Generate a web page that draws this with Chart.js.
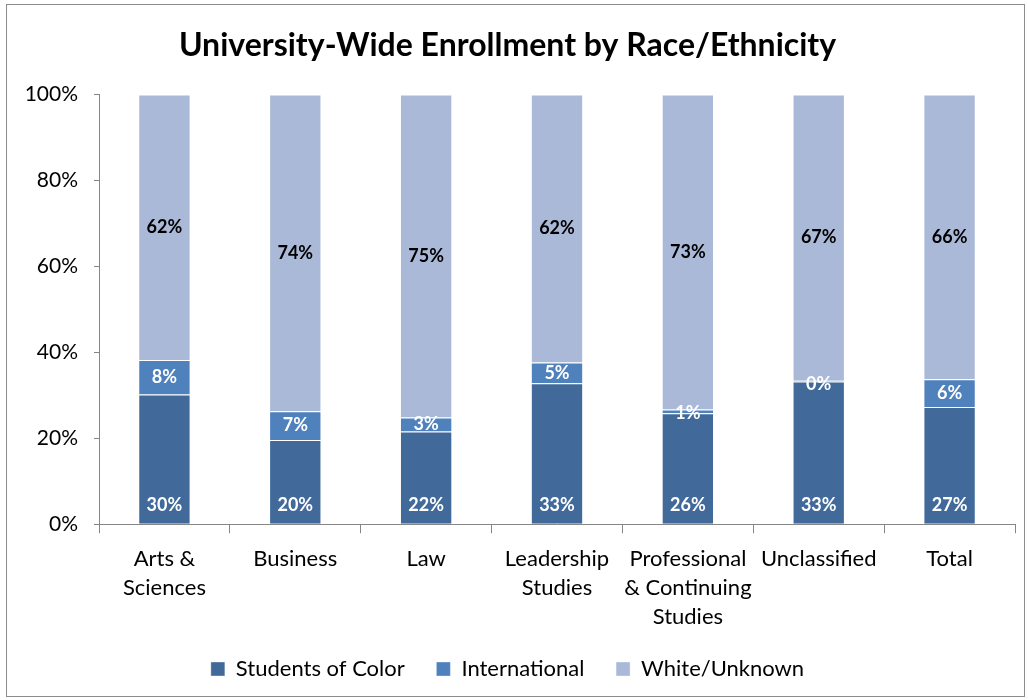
<!DOCTYPE html>
<html>
<head>
<meta charset="utf-8">
<script src="https://cdn.jsdelivr.net/npm/chart.js@4/dist/chart.umd.min.js"></script>
<style>
  html, body { margin: 0; padding: 0; background: #fff; }
  #wrap { position: relative; width: 1028px; height: 700px; }
</style>
</head>
<body>
<div id="wrap"><canvas id="enrollChart" width="1028" height="700"></canvas></div>
<script>
// Values (percent of enrollment)
const categories = [
    ['Arts &', 'Sciences'],
    ['Business'],
    ['Law'],
    ['Leadership', 'Studies'],
    ['Professional', '& Continuing', 'Studies'],
    ['Unclassified'],
    ['Total']
];
const studentsOfColor = [30.2, 19.6, 21.6, 32.8, 25.8, 33.2, 27.3];
const international   = [8.0, 6.7, 3.2, 4.8, 0.9, 0.2, 6.4];
const whiteUnknown    = [61.8, 73.7, 75.2, 62.4, 73.3, 66.6, 66.3];
const yTicks = [0, 20, 40, 60, 80, 100];

const FONT = 'Lato, "Open Sans", sans-serif';
const AXIS_COLOR = '#868686';

// Data labels drawn on each segment
const segmentLabels = {
    id: 'segmentLabels',
    afterDatasetsDraw(chart) {
        const ctx = chart.ctx;
        ctx.save();
        ctx.font = 'bold 18px ' + FONT;
        ctx.textAlign = 'center';
        ctx.textBaseline = 'middle';
        chart.data.datasets.forEach((ds, i) => {
            const meta = chart.getDatasetMeta(i);
            meta.data.forEach((bar, j) => {
                const txt = Math.round(ds.data[j]) + '%';
                let y = (bar.y + bar.base) / 2;
                if (i === 0) y = bar.base - 19;
                if (i === 1) y = Math.max(y, bar.y + 4);
                ctx.fillStyle = i === 2 ? '#000' : '#fff';
                ctx.fillText(txt, bar.x, y);
            });
        });
        ctx.restore();
    }
};

// Outer chart frame
const frame = {
    id: 'frame',
    afterDraw(chart) {
        const ctx = chart.ctx;
        ctx.save();
        ctx.strokeStyle = '#8c8c8c';
        ctx.lineWidth = 1;
        ctx.strokeRect(6.5, 4.5, 1018, 692);
        ctx.restore();
    }
};

const ctx = document.getElementById('enrollChart').getContext('2d');
new Chart(ctx, {
    type: 'bar',
    data: {
        labels: categories,
        datasets: [{
            label: 'Students of Color',
            data: studentsOfColor,
            backgroundColor: '#416A9B',
            borderColor: 'rgba(255,255,255,0.35)',
            borderWidth: 1
        }, {
            label: 'International',
            data: international,
            backgroundColor: '#4F81BD',
            borderColor: 'rgba(255,255,255,0.35)',
            borderWidth: 1
        }, {
            label: 'White/Unknown',
            data: whiteUnknown,
            backgroundColor: '#AAB9D7',
            borderColor: 'rgba(255,255,255,0.35)',
            borderWidth: 1
        }]
    },
    options: {
        responsive: false,
        animation: false,
        categoryPercentage: 1,
        barPercentage: 0.4,
        layout: { padding: { left: 0, right: 13, top: 8, bottom: 10 } },
        scales: {
            x: {
                stacked: true,
                border: { color: AXIS_COLOR, width: 1 },
                grid: {
                    offset: true,
                    drawOnChartArea: false,
                    color: AXIS_COLOR,
                    tickLength: 9
                },
                ticks: {
                    color: '#000',
                    font: { family: FONT, size: 22, lineHeight: 1.33 },
                    maxRotation: 0,
                    autoSkip: false,
                    padding: 11
                }
            },
            y: {
                stacked: true,
                min: 0,
                max: 100,
                afterBuildTicks: (scale) => {
                    scale.ticks = yTicks.map(v => ({ value: v }));
                },
                afterFit: (scale) => { scale.width = 99; },
                border: { color: AXIS_COLOR, width: 1 },
                grid: {
                    drawOnChartArea: false,
                    color: AXIS_COLOR,
                    tickLength: 5
                },
                ticks: {
                    color: '#000',
                    font: { family: FONT, size: 21 },
                    padding: 16,
                    callback: (v) => v + '%'
                }
            }
        },
        plugins: {
            title: {
                display: true,
                text: 'University-Wide Enrollment by Race/Ethnicity',
                color: '#000',
                font: { family: FONT, size: 32, weight: 'bold' },
                padding: { top: 18, bottom: 30 }
            },
            legend: {
                position: 'bottom',
                labels: {
                    color: '#000',
                    font: { family: FONT, size: 22 },
                    boxWidth: 14,
                    boxHeight: 14,
                    padding: 15,
                    // widen the gap between items without growing the space above
                    generateLabels: (chart) => {
                        const items = Chart.defaults.plugins.legend.labels.generateLabels(chart);
                        return items.map((it, i) => {
                            if (i < items.length - 1) it.text = it.text + '\u2002 ';
                            return it;
                        });
                    }
                }
            },
            tooltip: { enabled: false }
        }
    },
    plugins: [segmentLabels, frame]
});
</script>
</body>
</html>
